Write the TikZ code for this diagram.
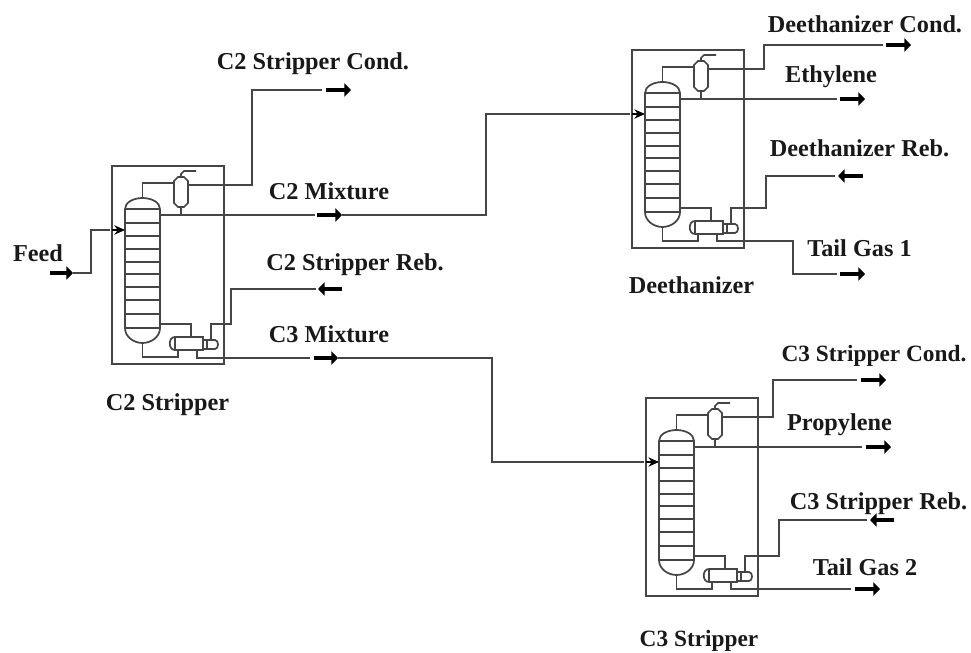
\documentclass[tikz,border=0pt]{standalone}
\usepackage{fontspec}
\setmainfont{Liberation Serif}
\usetikzlibrary{arrows.meta}
\definecolor{pipec}{gray}{0.27}
\definecolor{textc}{gray}{0.1}
\tikzset{
  pipe/.style={draw=pipec,line width=1.3pt,line join=miter},
  frame/.style={draw=pipec,line width=1.3pt},
  inlet/.style={draw=black,line width=0.9pt,-{Stealth[length=8pt,width=7pt]}},
  dashin/.style={draw=pipec,line width=1.3pt,dash pattern=on 3pt off 1.5pt},
  fat/.style={draw=black,line width=3pt,-{Triangle[length=5pt,width=10pt]}},
  lbl/.style={font=\fontsize{18.2}{20}\selectfont\bfseries,text=textc,inner sep=0pt,anchor=center,yshift=-0.3pt},
  lblsmall/.style={lbl,font=\fontsize{17.5}{20}\selectfont\bfseries},
  unit/.pic={
    \coordinate (box1) at (112,166);
    \coordinate (box2) at (224,364);
    \coordinate (in) at (125,230);
    \coordinate (inb) at (106,230);
    \coordinate (cond) at (188,185);
    \coordinate (prod) at (160,215);
    \coordinate (reb) at (211,340);
    \coordinate (tail) at (197,350);
    \draw[frame] (box1) rectangle (box2);
    % column
    \draw[pipe] (125,209) .. controls (125,202) and (134,198) .. (142.5,198)
       .. controls (151,198) and (160,202) .. (160,209) -- (160,328)
       .. controls (160,337) and (151,343) .. (142.5,343)
       .. controls (134,343) and (125,337) .. (125,328) -- cycle;
    \foreach \yy in {209,223,236,249,262,274,287,300,314,328}
      \draw[pipe] (125,\yy) -- (160,\yy);
    % condenser
    \draw[pipe] (174,181) -- (178,177) -- (184,177) -- (188,181) -- (188,203)
       -- (184,207) -- (178,207) -- (174,203) -- cycle;
    \draw[pipe] (142.5,198) -- (142.5,183) -- (174,183);
    \draw[pipe] (181,177) -- (181,174) -- (184,171) -- (196,171);
    \draw[pipe] (181,207) -- (181,215);
    % reboiler
    \draw[pipe] (175,337) -- (203,337) -- (203,350) -- (175,350)
       .. controls (168,350) and (168,337) .. (175,337) -- cycle;
    \draw[pipe] (175,337) -- (175,350);
    \draw[pipe] (203,340) -- (215,340) .. controls (219,340) and (219,349) .. (215,349) -- (203,349);
    \draw[pipe] (207,340) -- (207,349);
    \draw[pipe] (160,324) -- (191,324) -- (191,337);
    \draw[pipe] (142.5,343) -- (142.5,357) -- (178,357) -- (178,350);
  }
}
\begin{document}
\begin{tikzpicture}[x=0.75pt,y=-0.75pt]
\useasboundingbox (0,0) rectangle (971,653);
\pic (c) at (0,0) {unit};
\pic (d) at (520,-116) {unit};
\pic (p) at (534,232) {unit};

% free ends
\coordinate (feedA) at (50,273); \coordinate (feedB) at (73,273);
\coordinate (cc1) at (326,90);   \coordinate (cc2) at (351,90);
\coordinate (cm1) at (317,215);  \coordinate (cm2) at (342,215);
\coordinate (cr1) at (342,289);  \coordinate (cr2) at (318,289);
\coordinate (pm1) at (314,358);  \coordinate (pm2) at (338,358);
\coordinate (dc1) at (886,45);   \coordinate (dc2) at (911,45);
\coordinate (de1) at (840,99);   \coordinate (de2) at (865,99);
\coordinate (dr1) at (863,176);  \coordinate (dr2) at (838,176);
\coordinate (dt1) at (840,274);  \coordinate (dt2) at (865,274);
\coordinate (pc1) at (861,380);  \coordinate (pc2) at (886,380);
\coordinate (pp1) at (866,447);  \coordinate (pp2) at (891,447);
\coordinate (pr1) at (894,520);  \coordinate (pr2) at (870,520);
\coordinate (pt1) at (855,589);  \coordinate (pt2) at (880,589);

% thick arrows
\foreach \s/\e in {feedA/feedB,cc1/cc2,cm1/cm2,cr1/cr2,pm1/pm2,dc1/dc2,de1/de2,dr1/dr2,dt1/dt2,pc1/pc2,pp1/pp2,pr1/pr2,pt1/pt2}
  \draw[fat] (\s) -- (\e);

% C2 stripper connections
\draw[pipe] (feedB) -- (91,273) -- (91,230) -- (cinb);
\draw[dashin] (cinb) -- (112,230);
\draw[inlet] (112,230) -- (cin);
\draw[pipe,shorten >=3pt] (ccond) -- (252,185) -- (252,90) -- (cc1);
\draw[pipe,shorten >=1.5pt] (cprod) -- (cm1);
\draw[pipe,shorten <=1.5pt] (cr2) -- (231,289) -- (231,324) -- (211,324) -- (creb);
\draw[pipe,shorten >=3pt] (ctail) -- (197,358) -- (pm1);

% to deethanizer
\draw[pipe] (cm2) -- (486,215) -- (486,114) -- (dinb);
\draw[dashin] (dinb) -- (632,114);
\draw[inlet] (632,114) -- (din);

% to C3 stripper
\draw[pipe] (pm2) -- (492,358) -- (492,462) -- (pinb);
\draw[dashin] (pinb) -- (646,462);
\draw[inlet] (646,462) -- (pin);

% deethanizer connections
\draw[pipe,shorten >=2pt] (dcond) -- (764,69) -- (764,45) -- (dc1);
\draw[pipe,shorten >=2pt] (dprod) -- (de1);
\draw[pipe,shorten <=2pt] (dr2) -- (766,176) -- (766,208) -- (731,208) -- (dreb);
\draw[pipe,shorten >=2pt] (dtail) -- (717,241) -- (793,241) -- (793,274) -- (dt1);

% C3 stripper connections
\draw[pipe,shorten >=3pt] (pcond) -- (773,417) -- (773,380) -- (pc1);
\draw[pipe,shorten >=3pt] (pprod) -- (pp1);
\draw[pipe,shorten <=2pt] (pr2) -- (779,520) -- (779,556) -- (745,556) -- (preb);
\draw[pipe,shorten >=3pt] (ptail) -- (731,589) -- (pt1);

% labels
\node[lbl] (l1)  at (38,253)    {Feed};
\node[lbl] (l2)  at (167.5,404) {C2 Stripper};
\node[lbl] (l3)  at (313,63)    {C2 Stripper Cond.};
\node[lbl] (l4)  at (329,191)   {C2 Mixture};
\node[lbl] (l5)  at (355,264)   {C2 Stripper Reb.};
\node[lbl] (l6)  at (329,334)   {C3 Mixture};
\node[lbl] (l7)  at (691.5,285) {Deethanizer};
\node[lbl] (l8)  at (865,24)    {Deethanizer Cond.};
\node[lbl] (l9)  at (831,76)    {Ethylene};
\node[lbl] (l10) at (859.5,148) {Deethanizer Reb.};
\node[lbl] (l11) at (859.5,248) {Tail Gas 1};
\node[lblsmall] (l12) at (874,355)   {C3 Stripper Cond.};
\node[lbl] (l13) at (839.5,424) {Propylene};
\node[lbl] (l14) at (878.5,503) {C3 Stripper Reb.};
\node[lbl] (l15) at (865,567)   {Tail Gas 2};
\node[lblsmall] (l16) at (699,640)   {C3 Stripper};
\end{tikzpicture}
\end{document}
